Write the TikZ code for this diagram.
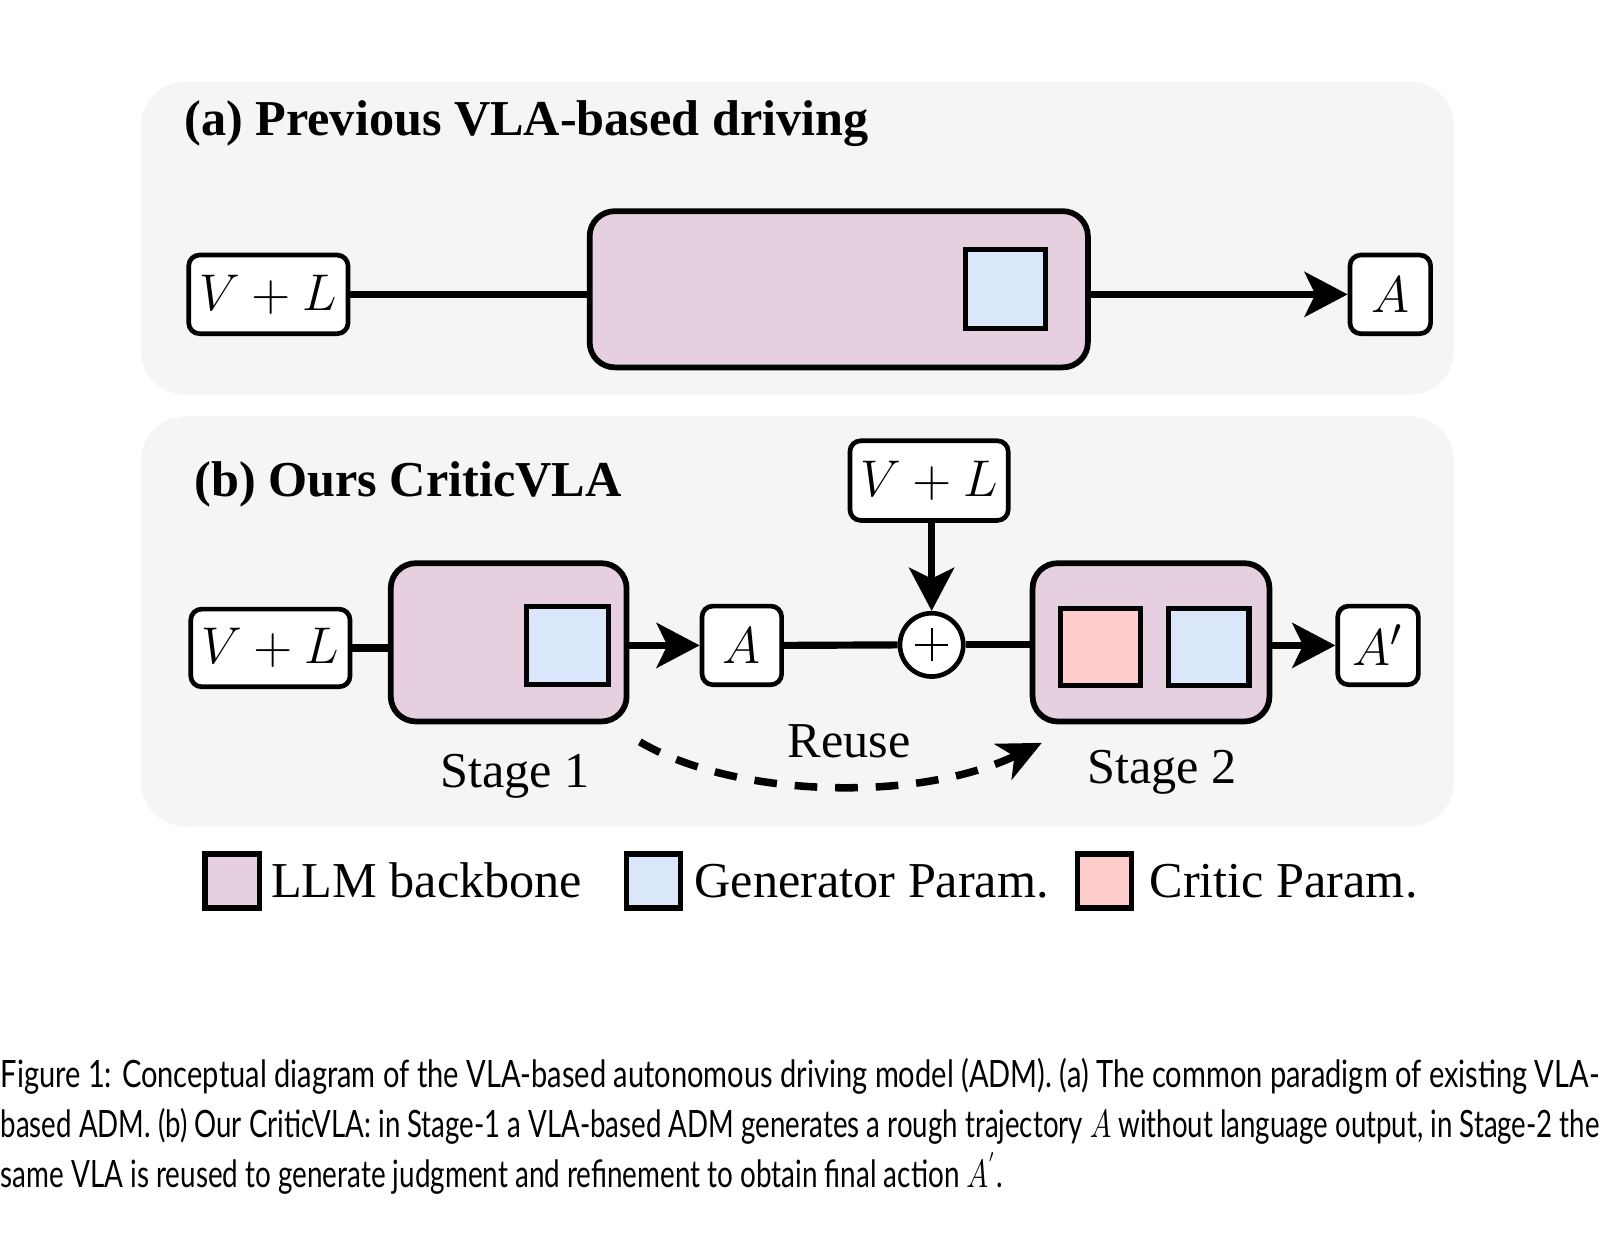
\documentclass[tikz,border=0pt]{standalone}
\usepackage{fontspec}
\setmainfont{Liberation Serif}
\newfontfamily\capfont{Lato}
\usetikzlibrary{arrows.meta}
\definecolor{panelbg}{RGB}{245,245,245}
\definecolor{llmc}{RGB}{230,208,223}
\definecolor{genc}{RGB}{218,230,250}
\definecolor{critc}{RGB}{255,204,204}
\newcommand\capLineOne{Figure 1: Conceptual diagram of the VLA-based autonomous driving model (ADM). (a) The common paradigm of existing VLA-}
\newcommand\capLineTwo{based ADM. (b) Our CriticVLA: in Stage-1 a VLA-based ADM generates a rough trajectory $A$ without language output, in Stage-2 the}
\newcommand\capLineThree{same VLA is reused to generate judgment and refinement to obtain final action $A^{'}$.}
\tikzset{
 panel/.style={fill=panelbg, draw=none, rounded corners=12.5pt},
 ttl/.style={font=\fontsize{14}{16}\selectfont\bfseries, anchor=base west, inner sep=0},
 lbl/.style={font=\fontsize{14}{16}\selectfont, anchor=base, inner sep=0},
 io/.style={draw, line width=1.3pt, fill=white, rounded corners=3pt, inner sep=0, font=\fontsize{15.5}{18}\selectfont},
 llmbox/.style={draw, line width=1.6pt, fill=llmc, rounded corners=7pt, inner sep=0},
 param/.style={draw, line width=1.4pt, inner sep=0, minimum width=0.79cm, minimum height=0.77cm},
 conn/.style={line width=2pt},
 arr/.style={line width=2pt, -{Stealth[length=12pt,width=12.5pt,inset=3pt]}},
 legsq/.style={draw, line width=1.5pt, minimum size=0.53cm, inner sep=0},
 legtxt/.style={font=\fontsize{14}{16}\selectfont, anchor=base west, inner sep=0},
 capline/.style={anchor=base west, inner sep=0, font=\capfont\fontsize{10.5}{12}\selectfont},
}
\begin{document}
\begin{tikzpicture}[x=0.01cm,y=-0.01cm]
\path[use as bounding box] (0,0) rectangle (1568,1225);
% panels
\path[panel] (138,80) rectangle (1425,387);
\path[panel] (138,408) rectangle (1425,810);
\node[ttl] (ta) at (180,133) {(a) Previous VLA-based driving};
\node[ttl] (tb) at (190,487) {(b) Ours CriticVLA};
% (a)
\node[io, minimum width=1.56cm, minimum height=0.77cm] (vl1) at (263,288.5) {$V+L$};
\node[llmbox, minimum width=4.88cm, minimum height=1.53cm] (llm1) at (822,283.5) {};
\node[param, fill=genc] (gen1) at (985.5,283.5) {};
\node[io, minimum width=0.79cm, minimum height=0.77cm] (a1) at (1362.5,288.5) {$A$};
\draw[conn] (vl1.east) -- (vl1.east -| llm1.west);
\draw[arr] (llm1.east |- a1.west) -- (a1.west);
% (b)
\node[io, minimum width=1.56cm, minimum height=0.76cm] (vl2) at (265,635) {$V+L$};
\node[llmbox, minimum width=2.31cm, minimum height=1.55cm] (st1) at (498.5,629.5) {};
\node[param, minimum width=0.80cm, fill=genc] (gen2) at (556,632.5) {};
\node[io, minimum width=0.78cm, minimum height=0.77cm] (a2) at (727,632.5) {$A$};
\node[draw, circle, line width=1.3pt, fill=white, minimum size=0.62cm, inner sep=0] (plus) at (913,632) {};
\draw[line width=0.6pt] ([xshift=-4.6pt]plus.center) -- ([xshift=4.6pt]plus.center);
\draw[line width=0.6pt] ([yshift=-4.6pt]plus.center) -- ([yshift=4.6pt]plus.center);
\node[io, minimum width=1.55cm, minimum height=0.78cm] (vl3) at (910.5,471) {$V+L$};
\node[llmbox, minimum width=2.32cm, minimum height=1.55cm] (st2) at (1128,629.5) {};
\node[param, minimum height=0.76cm, fill=critc] (crit) at (1078.5,634) {};
\node[param, minimum height=0.76cm, fill=genc] (gen3) at (1184.5,634) {};
\node[io, minimum width=0.79cm, minimum height=0.77cm] (a3) at (1350.5,632.5) {$A'$};
\draw[conn] (vl2.east) -- (vl2.east -| st1.west);
\draw[arr] (st1.east |- a2.west) -- (a2.west);
\draw[conn] (a2.east) -- (plus.west);
\draw[arr] (vl3.south -| plus.north) -- (plus.north);
\draw[conn] (plus.east) -- (plus.east -| st2.west);
\draw[arr] (st2.east |- a3.west) -- (a3.west);
\node[lbl] (s1) at (505,772) {Stage 1};
\node[lbl] (s2) at (1139,768) {Stage 2};
\node[lbl] (ru) at (832,742) {Reuse};
\coordinate (rs) at (627,727);
\coordinate (re) at (1021,728);
\draw[line width=2.1pt, dash pattern=on 6.3pt off 5pt, -{Stealth[length=12pt,width=11pt,inset=3.5pt]}]
  (rs) .. controls (720,782) and (900,787) .. (re);
% legend
\node[legsq, fill=llmc] (lg1) at (227.5,863.5) {};
\node[legtxt] (lt1) at (265,880) {LLM backbone};
\node[legsq, fill=genc] (lg2) at (640.5,863.5) {};
\node[legtxt] (lt2) at (680,880) {Generator Param.};
\node[legsq, fill=critc] (lg3) at (1082.5,863.5) {};
\node[legtxt] (lt3) at (1126,880) {Critic Param.};
% caption
\node[capline] (c1) at (0,1066) {\resizebox{15.66cm}{\height}{\capLineOne}};
\node[capline] (c2) at (0,1115) {\resizebox{15.66cm}{\height}{\capLineTwo}};
\node[capline] (c3) at (0,1164) {\resizebox{9.82cm}{\height}{\capLineThree}};
\end{tikzpicture}
\end{document}
